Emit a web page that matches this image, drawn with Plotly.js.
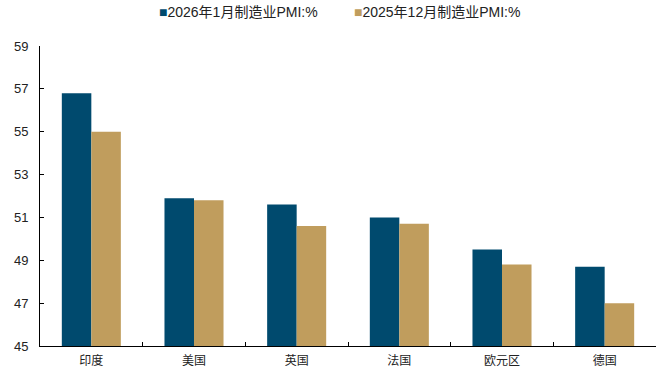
<!DOCTYPE html>
<html>
<head>
<meta charset="utf-8">
<script src="https://cdn.plot.ly/plotly-3.0.1.min.js"></script>
<style>
  html, body { margin: 0; padding: 0; background: #fff; }
  #chart { width: 665px; height: 373px; }
</style>
</head>
<body>
<div id="chart"></div>
<script>
// Manufacturing PMI by economy
const regions = ["印度", "美国", "英国", "法国", "欧元区", "德国"];
const pmiJan2026 = [56.8, 51.9, 51.6, 51.0, 49.5, 48.7];
const pmiDec2025 = [55.0, 51.8, 50.6, 50.7, 48.8, 47.0];
const seriesNames = ["2026年1月制造业PMI:%", "2025年12月制造业PMI:%"];
const seriesColors = ["#004a6e", "#c09d5d"];
const yTicks = [45, 47, 49, 51, 53, 55, 57, 59];

const fontFamily = '"Liberation Sans", Arial, "Noto Sans CJK SC", sans-serif';

const traces = [pmiJan2026, pmiDec2025].map((vals, i) => ({
  type: "bar",
  name: seriesNames[i],
  x: regions,
  y: vals,
  marker: { color: seriesColors[i] },
  hoverinfo: "x+y"
}));

// compact key above the plot: coloured square + series name
const keyX = [157, 352];
const annotations = seriesNames.map((name, i) => ({
  xref: "paper",
  yref: "paper",
  x: (keyX[i] - 40) / 616,
  y: 1.0,
  yshift: 34,
  xanchor: "left",
  yanchor: "middle",
  showarrow: false,
  text: '<span style="color:' + seriesColors[i] + '">■</span>' + name,
  font: { family: fontFamily, size: 14, color: "#222" }
}));

const layout = {
  width: 665,
  height: 373,
  margin: { l: 40, r: 9, t: 46, b: 27 },
  paper_bgcolor: "#ffffff",
  plot_bgcolor: "#ffffff",
  font: { family: fontFamily, size: 13, color: "#222" },
  barmode: "group",
  bargap: 0.425,
  bargroupgap: 0,
  showlegend: false,
  annotations: annotations,
  xaxis: {
    type: "category",
    showline: true,
    linecolor: "#000",
    linewidth: 1,
    ticks: "inside",
    tickson: "boundaries",
    ticklen: 4,
    tickcolor: "#000",
    showgrid: false,
    zeroline: false,
    ticklabelstandoff: 4,
    tickfont: { family: '"Noto Sans CJK SC", sans-serif', size: 12, color: "#222" },
    fixedrange: true
  },
  yaxis: {
    range: [45, 59],
    tickmode: "array",
    tickvals: yTicks,
    showline: true,
    linecolor: "#000",
    linewidth: 1,
    ticks: "inside",
    ticklen: 4,
    tickcolor: "#000",
    showgrid: false,
    zeroline: false,
    ticklabelstandoff: 8,
    tickfont: { family: fontFamily, size: 13, color: "#222" },
    fixedrange: true
  }
};

Plotly.newPlot("chart", traces, layout, { displayModeBar: false, staticPlot: true });
</script>
</body>
</html>
